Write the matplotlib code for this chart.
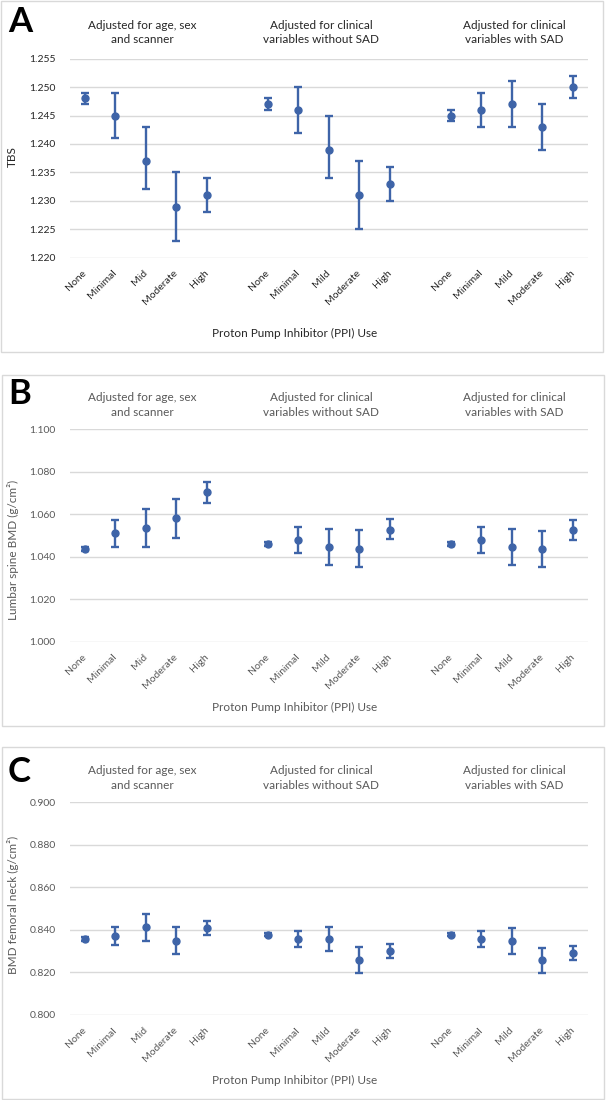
import numpy as np
import matplotlib
matplotlib.use("Agg")
import matplotlib.pyplot as plt
from matplotlib.patches import Rectangle

plt.rcParams['font.family'] = ['Lato', 'DejaVu Sans']

# categories and group titles
cats_first = ["None", "Minimal", "Mid", "Moderate", "High"]
cats_other = ["None", "Minimal", "Mild", "Moderate", "High"]
group_titles = ["Adjusted for age, sex\nand scanner",
                "Adjusted for clinical\nvariables without SAD",
                "Adjusted for clinical\nvariables with SAD"]
xlabel_text = "Proton Pump Inhibitor (PPI) Use"

# panel A - TBS
tbs_mean = [1.248, 1.245, 1.237, 1.229, 1.231,
            1.247, 1.246, 1.239, 1.231, 1.233,
            1.245, 1.246, 1.247, 1.243, 1.250]
tbs_low = [1.247, 1.241, 1.232, 1.223, 1.228,
           1.246, 1.242, 1.234, 1.225, 1.230,
           1.244, 1.243, 1.243, 1.239, 1.248]
tbs_high = [1.249, 1.249, 1.243, 1.235, 1.234,
            1.248, 1.250, 1.245, 1.237, 1.236,
            1.246, 1.249, 1.251, 1.247, 1.252]

# panel B - lumbar spine BMD
ls_mean = [1.0436, 1.0510, 1.0537, 1.0581, 1.0703,
           1.0460, 1.0479, 1.0446, 1.0436, 1.0527,
           1.0460, 1.0479, 1.0444, 1.0435, 1.0526]
ls_low = [1.0427, 1.0447, 1.0447, 1.0487, 1.0655,
          1.0451, 1.0419, 1.0361, 1.0350, 1.0482,
          1.0451, 1.0419, 1.0359, 1.0350, 1.0480]
ls_high = [1.0447, 1.0573, 1.0625, 1.0670, 1.0754,
           1.0471, 1.0542, 1.0532, 1.0527, 1.0576,
           1.0471, 1.0542, 1.0531, 1.0523, 1.0571]

# panel C - femoral neck BMD
fn_mean = [0.8357, 0.8370, 0.8412, 0.8350, 0.8411,
           0.8378, 0.8357, 0.8356, 0.8260, 0.8301,
           0.8378, 0.8357, 0.8350, 0.8257, 0.8292]
fn_low = [0.8347, 0.8328, 0.8350, 0.8285, 0.8376,
          0.8370, 0.8318, 0.8299, 0.8199, 0.8270,
          0.8370, 0.8318, 0.8288, 0.8199, 0.8260]
fn_high = [0.8367, 0.8414, 0.8475, 0.8412, 0.8444,
           0.8386, 0.8397, 0.8412, 0.8321, 0.8332,
           0.8386, 0.8397, 0.8408, 0.8313, 0.8324]

W, H = 606, 1100
BLUE = '#3E64A8'
GRID = '#D9D9D9'

fig = plt.figure(figsize=(W / 100, H / 100), dpi=100)


def fx(px):
    return px / W


def fy(py):
    return 1 - py / H


def panel(letter, box, ax_top, ax_bot, mean, low, high, ylim, yticks, yfmt,
          ylabel, ylabel_y, title_y, letter_y, xlabel_y, dark):
    txt = '#262626' if dark else '#595959'
    # panel frame
    fig.patches.append(Rectangle((fx(box[0]), fy(box[3])), fx(box[2] - box[0]),
                                 (box[3] - box[1]) / H, transform=fig.transFigure,
                                 fill=False, edgecolor=GRID, linewidth=1.0))
    ax = fig.add_axes([fx(69.6), fy(ax_bot), fx(588 - 69.6), (ax_bot - ax_top) / H])
    labels = cats_first + cats_other + cats_other
    xs = [g * 6 + i for g in range(3) for i in range(5)]
    mean = np.array(mean)
    yerr = [mean - np.array(low), np.array(high) - mean]
    ax.errorbar(xs, mean, yerr=yerr, fmt='o', color=BLUE, markersize=5,
                elinewidth=1.7, capsize=2.6, capthick=1.7, zorder=3)
    ax.set_xlim(-0.5, 16.5)
    ax.set_ylim(*ylim)
    ax.set_yticks(yticks)
    ax.set_yticklabels([yfmt.format(v) for v in yticks], fontsize=7.5, color=txt)
    ax.set_xticks(xs)
    ax.set_xticklabels(labels, rotation=45, ha='right', va='center',
                       rotation_mode='anchor', fontsize=7.5, color=txt)
    ax.tick_params(axis='both', length=0)
    ax.tick_params(axis='x', pad=10)
    ax.tick_params(axis='y', pad=10)
    ax.grid(axis='y', color=GRID, linewidth=1.0)
    ax.set_axisbelow(True)
    for s in ax.spines.values():
        s.set_visible(False)

    fig.text(fx(8), fy(letter_y), letter, fontsize=25, fontweight='bold',
             ha='left', va='center', color='black')
    for cx, t in zip([142, 321, 514], group_titles):
        fig.text(fx(cx), fy(title_y), t, fontsize=8.5, ha='center', va='center',
                 color=txt, linespacing=1.35)
    fig.text(fx(12.8), fy(ylabel_y), ylabel, fontsize=8.5, rotation=90,
             ha='center', va='center', color=txt)
    fig.text(fx(295), fy(xlabel_y), xlabel_text, fontsize=8.5, ha='center',
             va='center', color=txt)
    return ax


panel('A', (1, 1, 603, 352), 58.7, 257.7, tbs_mean, tbs_low, tbs_high,
      (1.220, 1.255), np.arange(1.220, 1.2551, 0.005), '{:.3f}',
      'TBS', 157, 32.5, 22.5, 333, True)
panel('B', (2, 375, 604, 726), 429.3, 641.7, ls_mean, ls_low, ls_high,
      (1.000, 1.100), np.arange(1.000, 1.1001, 0.020), '{:.3f}',
      'Lumbar spine BMD (g/cm²)', 550, 405, 394, 707, False)
panel('C', (2, 747, 604, 1099), 802.3, 1015, fn_mean, fn_low, fn_high,
      (0.800, 0.900), np.arange(0.800, 0.9001, 0.020), '{:.3f}',
      'BMD femoral neck (g/cm²)', 905, 778, 772.5, 1080, False)

fig.savefig('out.png', dpi=100, facecolor='white')
